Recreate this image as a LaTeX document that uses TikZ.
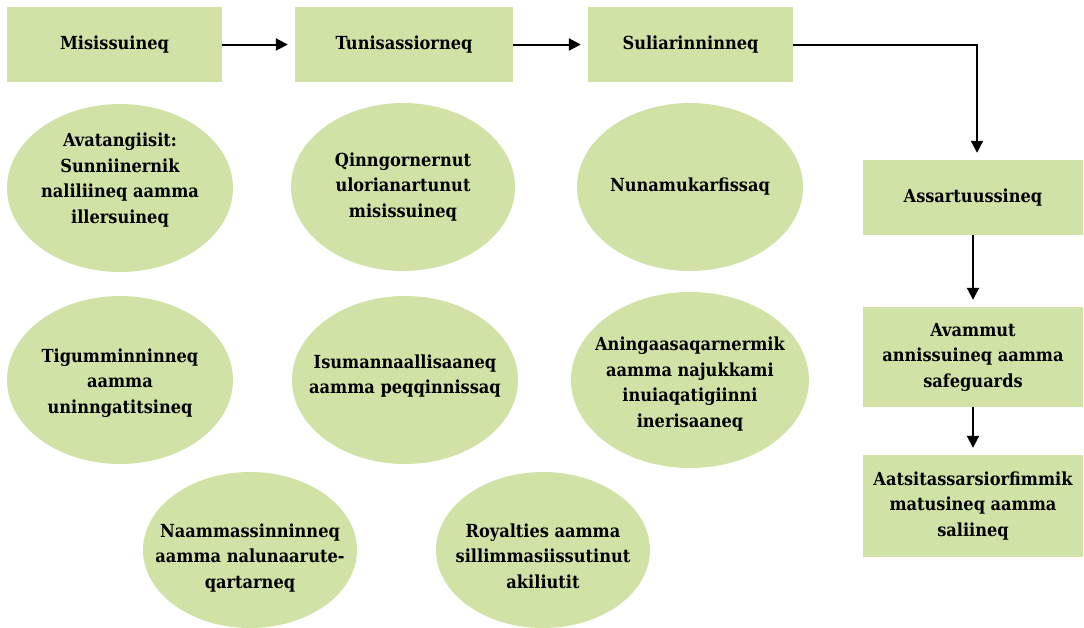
\documentclass[tikz,border=0pt]{standalone}
\usepackage{fontspec}
\setmainfont{DejaVu Serif Condensed}
\usetikzlibrary{arrows.meta}
\definecolor{leafgreen}{RGB}{209,226,166}
\tikzset{
	stagebox/.style={fill=leafgreen, inner sep=0pt, align=center, font=\bfseries\fontsize{18}{25.5}\selectfont},
	topictext/.style={inner sep=0pt, align=center, font=\bfseries\fontsize{18}{25.5}\selectfont},
	flowarrow/.style={-{Triangle[length=12pt,width=12pt]}, line width=2pt, shorten >=7pt}
}

\begin{document}
\begin{tikzpicture}[x=1pt,y=-1pt]
			%%%%% START %%%%%
			\useasboundingbox (0,0) rectangle (1084,627);
			
			% stages along the top and down the right
			\node[stagebox, minimum width=215pt, minimum height=75pt] (misis) at (114.5,44.5) {Misissuineq};
			\node[stagebox, minimum width=218pt, minimum height=75pt] (tunis) at (404,44.5) {Tunisassiorneq};
			\node[stagebox, minimum width=205pt, minimum height=75pt] (suliar) at (690.5,44.5) {Suliarinninneq};
			\node[stagebox, minimum width=220pt, minimum height=75pt] (assart) at (973,197.5) {Assartuussineq};
			\node[stagebox, minimum width=220pt, minimum height=100pt] (avamm) at (973,357) {Avammut\\annissuineq aamma\\safeguards};
			\node[stagebox, minimum width=220pt, minimum height=102pt] (aatsit) at (973,506) {Aatsitassarsiorfimmik\\matusineq aamma\\saliineq};
			
			\draw[flowarrow] (misis) -- (tunis);
			\draw[flowarrow] (tunis) -- (suliar);
			\draw[flowarrow] (suliar.east) -| ([xshift=4pt]assart.north);
			\draw[flowarrow] (assart) -- (avamm);
			\draw[flowarrow] (avamm) -- (aatsit);
			
			% topics
			\fill[leafgreen] (120,188) ellipse (113 and 84);
			\fill[leafgreen] (403,187) ellipse (112 and 84);
			\fill[leafgreen] (690,187) ellipse (113 and 84);
			\fill[leafgreen] (120,380) ellipse (113 and 84);
			\fill[leafgreen] (405,380) ellipse (113 and 84);
			\fill[leafgreen] (690,380) ellipse (119 and 88);
			\fill[leafgreen] (250,550) ellipse (107 and 78);
			\fill[leafgreen] (543,550) ellipse (107 and 78);
			
			\node[topictext] (avat) at (120,180) {Avatangiisit:\\Sunniinernik\\naliliineq aamma\\illersuineq};
			\node[topictext] (qinng) at (403,187) {Qinngornernut\\ulorianartunut\\misissuineq};
			\node[topictext] (nunam) at (690,187) {Nunamukarfissaq};
			\node[topictext] (tigum) at (120,383) {Tigumminninneq\\aamma\\uninngatitsineq};
			\node[topictext] (isuma) at (405,376) {Isumannaallisaaneq\\aamma peqqinnissaq};
			\node[topictext] (aning) at (690,384) {Aningaasaqarnermik\\aamma najukkami\\inuiaqatigiinni\\inerisaaneq};
			\node[topictext] (naamm) at (250,558) {Naammassinninneq\\aamma nalunaarute-\\qartarneq};
			\node[topictext] (royal) at (543,556) {Royalties aamma\\sillimmasiissutinut\\akiliutit};
			%%%%% END %%%%%
\end{tikzpicture}
\end{document}
